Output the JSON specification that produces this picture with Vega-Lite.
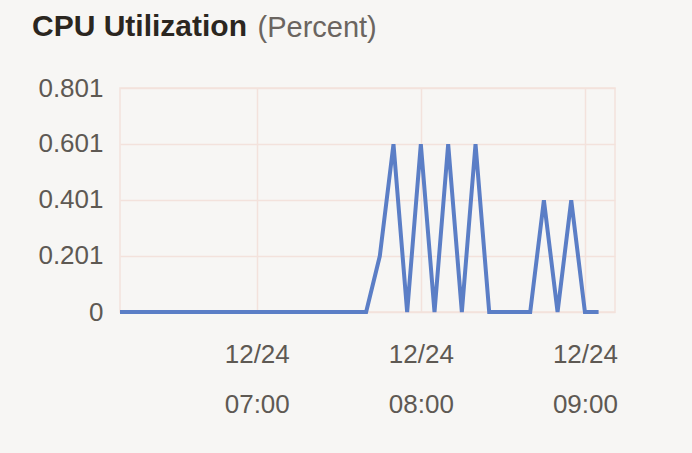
{
  "$schema": "https://vega.github.io/schema/vega-lite/v6.json",
  "width": 495,
  "height": 224,
  "autosize": "none",
  "padding": {"left": 120, "top": 88, "right": 77, "bottom": 141},
  "background": "#f7f6f4",
  "title": {
    "text": "CPU Utilization",
    "anchor": "start",
    "frame": "group",
    "dx": -88,
    "dy": 29,
    "font": "Liberation Sans",
    "fontSize": 30,
    "fontWeight": "bold",
    "color": "#2b2620",
    "offset": 0
  },
  "config": {
    "view": {"stroke": "#f3e2dc", "strokeWidth": 1.5},
    "axis": {
      "labelFont": "Liberation Sans",
      "labelFontSize": 26,
      "labelColor": "#5e5953",
      "gridColor": "#f3e2dc",
      "gridWidth": 1.5,
      "ticks": false,
      "domain": false
    }
  },
  "data": {
    "values": [
      {"time": "2015-12-24T06:10:00Z", "cpu": 0},
      {"time": "2015-12-24T06:15:00Z", "cpu": 0},
      {"time": "2015-12-24T06:20:00Z", "cpu": 0},
      {"time": "2015-12-24T06:25:00Z", "cpu": 0},
      {"time": "2015-12-24T06:30:00Z", "cpu": 0},
      {"time": "2015-12-24T06:35:00Z", "cpu": 0},
      {"time": "2015-12-24T06:40:00Z", "cpu": 0},
      {"time": "2015-12-24T06:45:00Z", "cpu": 0},
      {"time": "2015-12-24T06:50:00Z", "cpu": 0},
      {"time": "2015-12-24T06:55:00Z", "cpu": 0},
      {"time": "2015-12-24T07:00:00Z", "cpu": 0},
      {"time": "2015-12-24T07:05:00Z", "cpu": 0},
      {"time": "2015-12-24T07:10:00Z", "cpu": 0},
      {"time": "2015-12-24T07:15:00Z", "cpu": 0},
      {"time": "2015-12-24T07:20:00Z", "cpu": 0},
      {"time": "2015-12-24T07:25:00Z", "cpu": 0},
      {"time": "2015-12-24T07:30:00Z", "cpu": 0},
      {"time": "2015-12-24T07:35:00Z", "cpu": 0},
      {"time": "2015-12-24T07:40:00Z", "cpu": 0},
      {"time": "2015-12-24T07:45:00Z", "cpu": 0.2},
      {"time": "2015-12-24T07:50:00Z", "cpu": 0.6},
      {"time": "2015-12-24T07:55:00Z", "cpu": 0},
      {"time": "2015-12-24T08:00:00Z", "cpu": 0.6},
      {"time": "2015-12-24T08:05:00Z", "cpu": 0},
      {"time": "2015-12-24T08:10:00Z", "cpu": 0.6},
      {"time": "2015-12-24T08:15:00Z", "cpu": 0},
      {"time": "2015-12-24T08:20:00Z", "cpu": 0.6},
      {"time": "2015-12-24T08:25:00Z", "cpu": 0},
      {"time": "2015-12-24T08:30:00Z", "cpu": 0},
      {"time": "2015-12-24T08:35:00Z", "cpu": 0},
      {"time": "2015-12-24T08:40:00Z", "cpu": 0},
      {"time": "2015-12-24T08:45:00Z", "cpu": 0.4},
      {"time": "2015-12-24T08:50:00Z", "cpu": 0},
      {"time": "2015-12-24T08:55:00Z", "cpu": 0.4},
      {"time": "2015-12-24T09:00:00Z", "cpu": 0},
      {"time": "2015-12-24T09:05:00Z", "cpu": 0}
    ]
  },
  "mark": {"type": "line", "color": "#5b7ec6", "strokeWidth": 4},
  "encoding": {
    "x": {
      "field": "time",
      "type": "temporal",
      "scale": {
        "type": "utc",
        "domain": [1450937400000, 1450948260000]
      },
      "axis": {
        "title": null,
        "values": [1450940400000, 1450944000000, 1450947600000],
        "labelExpr": "[utcFormat(datum.value, '%m/%d'), utcFormat(datum.value, '%H:%M')]",
        "labelLineHeight": 50,
        "labelPadding": 29,
        "labelFlush": false,
        "labelOverlap": false
      }
    },
    "y": {
      "field": "cpu",
      "type": "quantitative",
      "scale": {"domain": [0, 0.801], "nice": false},
      "axis": {
        "values": [0, 0.201, 0.401, 0.601, 0.801],
        "labelExpr": "datum.value == 0 ? '0' : format(datum.value, '.3f')",
        "labelPadding": 17,
        "title": "(Percent)",
        "titleAngle": 0,
        "titleAlign": "left",
        "titleBaseline": "alphabetic",
        "titleX": 137,
        "titleY": -52,
        "titleFont": "Liberation Sans",
        "titleFontSize": 29,
        "titleFontWeight": "normal",
        "titleColor": "#6b6560"
      }
    }
  }
}
